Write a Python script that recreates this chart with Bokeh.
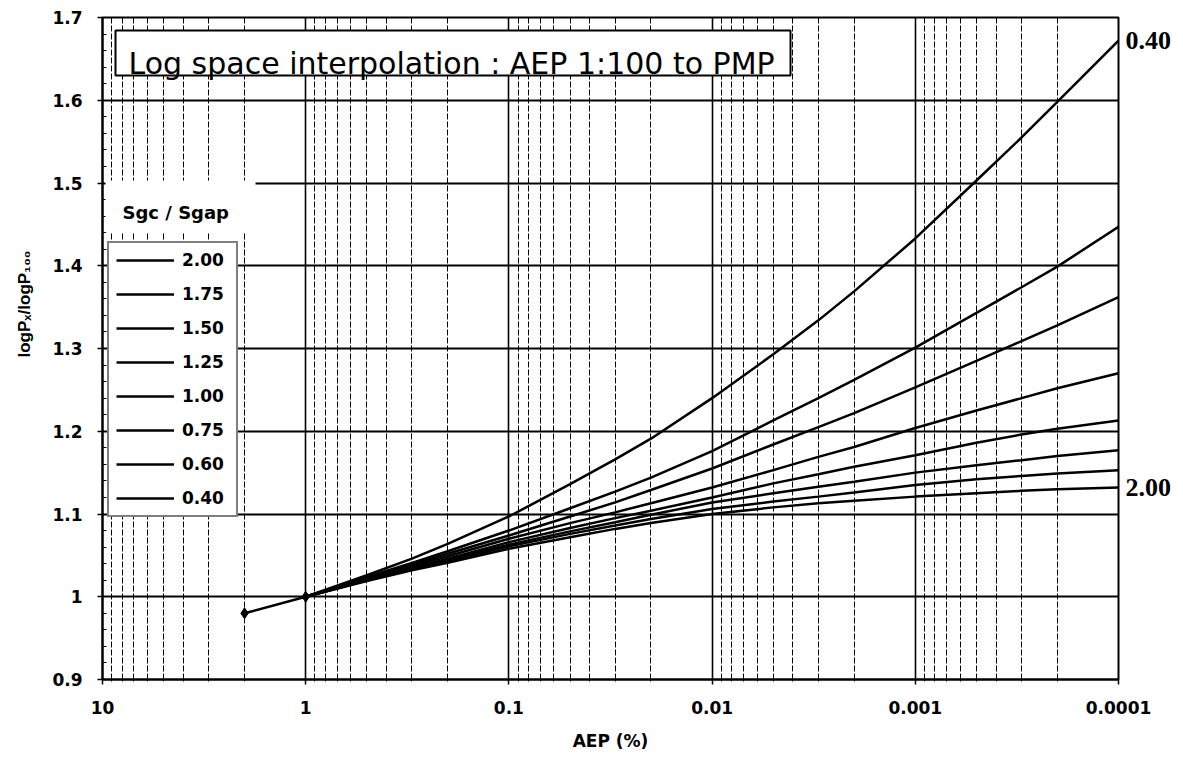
from bokeh.plotting import figure
from bokeh.models import (Range1d, FixedTicker, Legend, LegendItem, Label,
                          BoxAnnotation, LinearAxis, Title)
from bokeh.embed import file_html
from bokeh.resources import INLINE

# ---------------- data ----------------
aep = [1.0, 0.5, 0.3, 0.2, 0.1, 0.05, 0.03, 0.02, 0.01,
       0.005, 0.003, 0.002, 0.001, 0.0005, 0.0003, 0.0002, 0.0001]

ratio_040 = [1.000, 1.026, 1.046, 1.064, 1.097, 1.136, 1.166, 1.191, 1.240,
             1.293, 1.334, 1.369, 1.433, 1.503, 1.555, 1.598, 1.672]
ratio_060 = [1.000, 1.024, 1.041, 1.055, 1.080, 1.107, 1.127, 1.144, 1.176,
             1.213, 1.240, 1.262, 1.301, 1.343, 1.374, 1.399, 1.447]
ratio_075 = [1.000, 1.023, 1.039, 1.052, 1.074, 1.097, 1.114, 1.129, 1.155,
             1.184, 1.205, 1.222, 1.253, 1.285, 1.309, 1.328, 1.362]
ratio_100 = [1.000, 1.022, 1.037, 1.049, 1.070, 1.089, 1.102, 1.113, 1.132,
             1.153, 1.169, 1.181, 1.204, 1.225, 1.240, 1.252, 1.270]
ratio_125 = [1.000, 1.021, 1.035, 1.046, 1.066, 1.083, 1.095, 1.104, 1.120,
             1.137, 1.148, 1.157, 1.171, 1.186, 1.196, 1.203, 1.213]
ratio_150 = [1.000, 1.020, 1.034, 1.045, 1.063, 1.079, 1.090, 1.099, 1.114,
             1.125, 1.133, 1.139, 1.150, 1.159, 1.165, 1.170, 1.177]
ratio_175 = [1.000, 1.020, 1.033, 1.043, 1.061, 1.076, 1.086, 1.094, 1.106,
             1.115, 1.121, 1.126, 1.135, 1.142, 1.146, 1.149, 1.153]
ratio_200 = [1.000, 1.019, 1.032, 1.041, 1.058, 1.072, 1.082, 1.089, 1.100,
             1.108, 1.113, 1.116, 1.121, 1.125, 1.128, 1.130, 1.132]

series_names = ["0.40", "0.60", "0.75", "1.00", "1.25", "1.50", "1.75", "2.00"]
series_values = [ratio_040, ratio_060, ratio_075, ratio_100,
                 ratio_125, ratio_150, ratio_175, ratio_200]
end_labels = ["0.40", "2.00"]

pre_aep = [2.0, 1.0]
pre_ratio = [0.98, 1.0]

x_ticks = [10.0, 1.0, 0.1, 0.01, 0.001, 0.0001]
x_tick_labels = ["10", "1", "0.1", "0.01", "0.001", "0.0001"]
y_ticks = [0.9, 1.0, 1.1, 1.2, 1.3, 1.4, 1.5, 1.6, 1.7]
y_tick_labels = ["0.9", "1", "1.1", "1.2", "1.3", "1.4", "1.5", "1.6", "1.7"]

title_text = "Log space interpolation : AEP 1:100 to PMP"
legend_title = "Sgc / Sgap"
x_title = "AEP (%)"
y_title = "logP\u2093/logP\u2081\u2080\u2080"

# ---------------- figure ----------------
p = figure(width=1183, height=762, x_axis_type="log",
           x_range=Range1d(10, 0.0001), y_range=Range1d(0.9, 1.7),
           output_backend="svg", toolbar_location=None,
           min_border_left=102, min_border_right=65,
           min_border_top=17, min_border_bottom=83)
p.background_fill_color = "white"
p.border_fill_color = "white"
p.outline_line_color = "black"
p.outline_line_width = 2

x_minor = [m * 10.0 ** e for e in range(-4, 1) for m in range(2, 10)]
y_minor = [round(0.9 + 0.02 * i, 2) for i in range(41)]

xt = FixedTicker(ticks=x_ticks, minor_ticks=x_minor)
yt = FixedTicker(ticks=y_ticks, minor_ticks=y_minor)
p.xaxis.ticker = xt
p.yaxis.ticker = yt
p.xgrid.ticker = xt
p.ygrid.ticker = yt
p.xaxis.major_label_overrides = dict(zip(x_ticks, x_tick_labels))
p.yaxis.major_label_overrides = dict(zip(y_ticks, y_tick_labels))

for ax in (p.xaxis, p.yaxis):
    ax.axis_line_color = "black"
    ax.axis_line_width = 2
    ax.major_tick_line_color = "black"
    ax.major_tick_line_width = 1.5
    ax.minor_tick_line_color = "black"
    ax.major_tick_out = 5
    ax.major_tick_in = 0
    ax.major_label_text_font = "DejaVu Sans"
    ax.major_label_text_font_style = "bold"
    ax.major_label_text_font_size = "17px"
    ax.major_label_text_color = "black"

p.xaxis.minor_tick_out = 2
p.xaxis.minor_tick_in = 0
p.yaxis.minor_tick_out = 0
p.yaxis.minor_tick_in = 4
p.xaxis.major_label_standoff = 16
p.yaxis.major_label_standoff = 15

p.xaxis.axis_label = x_title
p.xaxis.axis_label_text_font = "DejaVu Sans"
p.xaxis.axis_label_text_font_style = "bold"
p.xaxis.axis_label_text_font_size = "17px"
p.xaxis.axis_label_text_color = "black"
p.xaxis.axis_label_standoff = 14

p.xgrid.grid_line_color = "black"
p.xgrid.grid_line_width = 1.6
p.xgrid.minor_grid_line_color = "black"
p.xgrid.minor_grid_line_width = 1
p.xgrid.minor_grid_line_dash = "6 2"
p.ygrid.grid_line_color = "black"
p.ygrid.grid_line_width = 2

# y axis title (left side panel, placed like the reference)
p.add_layout(Title(text=y_title, align="left", vertical_align="top",
                   offset=322, standoff=27,
                   text_font="Liberation Sans", text_font_style="bold",
                   text_font_size="17px", text_color="black"), "left")

# ---------------- curves ----------------
renderers = []
for name, vals in zip(series_names, series_values):
    r = p.line(aep, vals, line_color="black", line_width=2.5)
    renderers.append(r)

p.line(pre_aep, pre_ratio, line_color="black", line_width=2.5)
p.scatter(pre_aep, pre_ratio, marker="diamond", size=11, color="black")

# end labels on the right (via an extra right axis placed at the curve ends)
end_vals = [vals[-1] for n, vals in zip(series_names, series_values) if n in end_labels]
end_names = [n for n in series_names if n in end_labels]
ra = LinearAxis(ticker=FixedTicker(ticks=end_vals, minor_ticks=[]),
                major_label_overrides=dict(zip(end_vals, end_names)))
ra.axis_line_alpha = 0
ra.major_tick_line_alpha = 0
ra.minor_tick_line_alpha = 0
ra.major_tick_out = 0
ra.major_tick_in = 0
ra.minor_tick_out = 0
ra.minor_tick_in = 0
ra.major_label_standoff = 7
ra.major_label_text_font = "Liberation Serif"
ra.major_label_text_font_style = "bold"
ra.major_label_text_font_size = "26px"
ra.major_label_text_color = "black"
p.add_layout(ra, "right")

# ---------------- title box ----------------
p.add_layout(BoxAnnotation(left=115, right=790, top=30, bottom=75,
                           left_units="canvas", right_units="canvas",
                           top_units="canvas", bottom_units="canvas",
                           fill_color="white", fill_alpha=1,
                           line_color="black", line_width=2, line_alpha=1))
p.add_layout(Label(x=128, y=63, x_units="canvas", y_units="canvas",
                   text=title_text, text_baseline="alphabetic", text_align="left",
                   text_font="DejaVu Sans", text_font_size="30px", text_color="black"))

# ---------------- legend ----------------
p.add_layout(BoxAnnotation(left=105, right=255, top=180, bottom=232,
                           left_units="canvas", right_units="canvas",
                           top_units="canvas", bottom_units="canvas",
                           fill_color="white", fill_alpha=1, line_alpha=0))
p.add_layout(Label(x=122, y=212, x_units="canvas", y_units="canvas",
                   text=legend_title, text_baseline="alphabetic", text_align="left",
                   text_font="DejaVu Sans", text_font_style="bold",
                   text_font_size="18px", text_color="black"))

items = [LegendItem(label=n, renderers=[r])
         for n, r in reversed(list(zip(series_names, renderers)))]
legend = Legend(items=items, location=(5, 162), margin=0,
                border_line_color="black", border_line_width=2,
                background_fill_color="white", background_fill_alpha=1,
                padding=7, spacing=14, glyph_height=20, glyph_width=58,
                label_height=20, label_width=47, label_standoff=8,
                label_text_font="DejaVu Sans", label_text_font_style="bold",
                label_text_font_size="17px", label_text_color="black")
p.add_layout(legend)

open("out.html", "w").write(file_html(p, INLINE))
